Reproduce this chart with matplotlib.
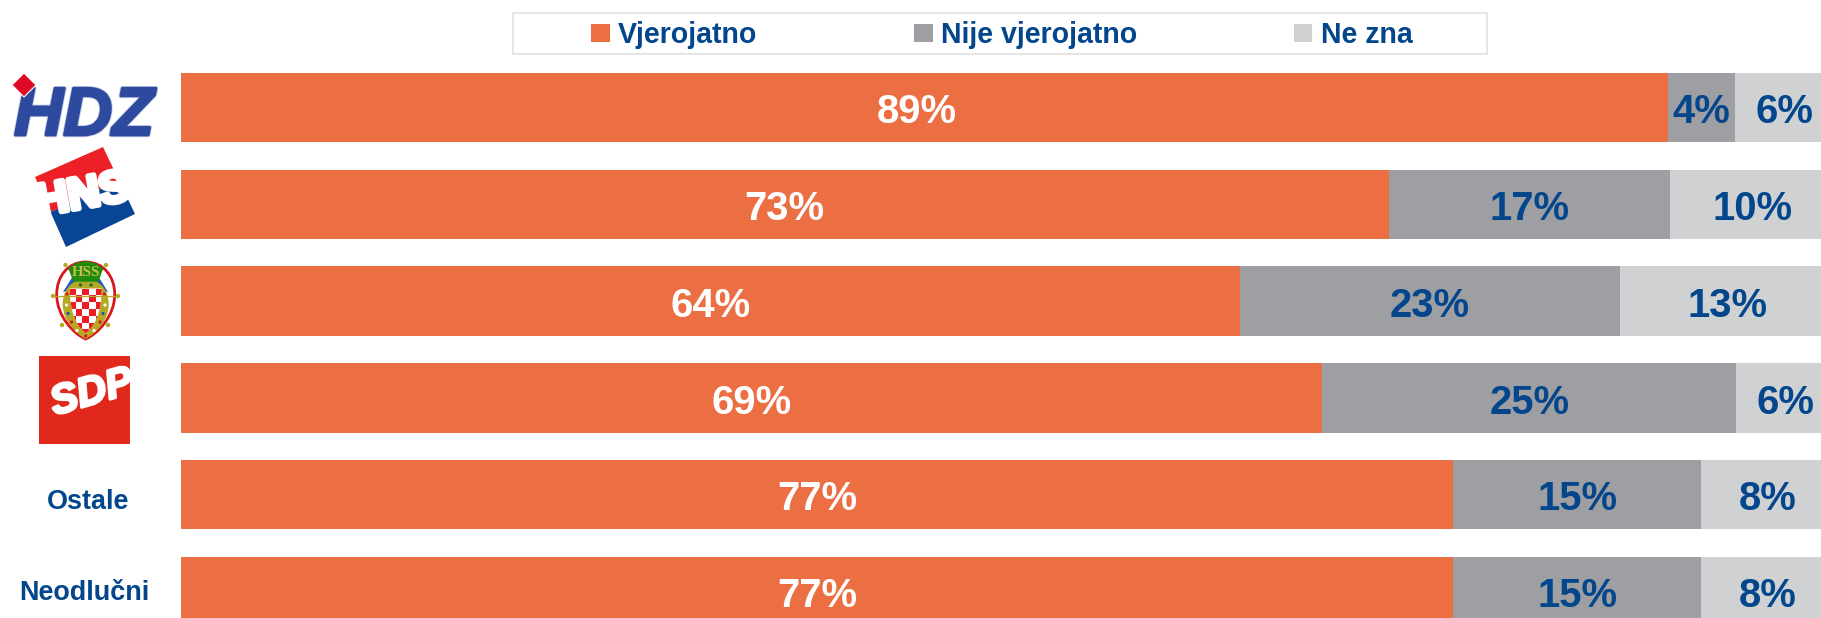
import matplotlib

matplotlib.use("Agg")

import matplotlib.pyplot as plt
import matplotlib.patheffects as pe
from matplotlib.patches import Circle, PathPatch, Polygon, Rectangle
from matplotlib.path import Path

WIDTH = 1821
HEIGHT = 618

plt.rcParams["font.family"] = ["Liberation Sans", "DejaVu Sans"]

ORANGE = "#EC6F43"
GRAY = "#9E9FA2"
LIGHT = "#D0D1D3"
BLUE = "#03468C"

# top to bottom; the first four rows are party logos in the original
categories = ["HDZ", "HNS", "HSS", "SDP", "Ostale", "Neodlučni"]
vjerojatno = [89.9, 73, 64, 69, 76.9, 76.9]
nije_vjerojatno = [4, 17, 23, 25, 15, 15]
ne_zna = [6.1, 10, 13, 6, 8.1, 8.1]
# printed numbers, the first bar is drawn a bit longer than its label says
vjerojatno_labels = [89, 73, 64, 69, 77, 77]
nije_labels = [4, 17, 23, 25, 15, 15]
ne_zna_labels = [6, 10, 13, 6, 8, 8]
legend_labels = ["Vjerojatno", "Nije vjerojatno", "Ne zna"]


def px(size):
    # font size in points for a size in pixels at dpi 100
    return size * 0.72


def shield_path(cx, top, bottom, half):
    mid = top + (bottom - top) * 0.42
    verts = [
        (cx, top),
        (cx + half * 0.62, top), (cx + half, mid - (mid - top) * 0.55), (cx + half, mid),
        (cx + half, mid + (bottom - mid) * 0.5), (cx + half * 0.4, bottom - 5), (cx, bottom),
        (cx - half * 0.4, bottom - 5), (cx - half, mid + (bottom - mid) * 0.5), (cx - half, mid),
        (cx - half, mid - (mid - top) * 0.55), (cx - half * 0.62, top), (cx, top),
    ]
    codes = [Path.MOVETO] + [Path.CURVE4] * 12
    return Path(verts, codes)


def checker_path(cx, top, bottom, half):
    verts = [
        (cx - half, top), (cx + half, top),
        (cx + half, top + (bottom - top) * 0.55), (cx + half * 0.55, bottom - 6), (cx, bottom),
        (cx - half * 0.55, bottom - 6), (cx - half, top + (bottom - top) * 0.55), (cx - half, top),
        (cx - half, top),
    ]
    codes = [Path.MOVETO, Path.LINETO] + [Path.CURVE4] * 6 + [Path.CLOSEPOLY]
    return Path(verts, codes)


def draw_hdz(ax):
    ax.text(84, 110, "HDZ", color="#2E4A9E", fontsize=px(68), fontweight="bold",
            fontstyle="italic", ha="center", va="center_baseline",
            path_effects=[pe.withStroke(linewidth=3.2, foreground="#C4CCE2"),
                          pe.withStroke(linewidth=2, foreground="#2E4A9E")])
    ax.add_patch(Polygon([(24, 73), (36, 85), (24, 97), (12, 85)], closed=True,
                         facecolor="#DE0A26", edgecolor="white", linewidth=0.8, zorder=5))


def draw_hns(ax):
    ax.add_patch(Polygon([(35, 177), (103, 147), (119, 180.5), (50.5, 212)],
                         closed=True, facecolor="#EE2027", edgecolor="none"))
    ax.add_patch(Polygon([(50.5, 212), (119, 180.5), (135, 214), (66, 247)],
                         closed=True, facecolor="#084695", edgecolor="none"))
    ax.text(83, 196, "HNS", color="white", fontsize=px(44), fontweight="bold",
            rotation=10, rotation_mode="anchor", ha="center", va="center",
            path_effects=[pe.withStroke(linewidth=4, foreground="white")])


def draw_hss(ax):
    cx = 85.7
    olive = "#B5A823"
    ax.plot([53, 118], [296, 296], color=olive, linewidth=0.9)
    for x, y in [(65.5, 265), (106, 265), (53, 296), (118, 296), (62, 325), (108, 325)]:
        ax.add_patch(Circle((x, y), 1.5, color=olive))
    ax.add_patch(PathPatch(shield_path(cx, 262, 339, 29), facecolor="white",
                           edgecolor="#D8161C", linewidth=2))
    ax.add_patch(Polygon([(73, 276), (63, 292), (72, 290), (78, 280)], closed=True,
                         facecolor="#1F55C8", edgecolor="none"))
    ax.add_patch(Polygon([(98, 276), (108, 292), (99, 290), (93, 280)], closed=True,
                         facecolor="#1F55C8", edgecolor="none"))
    ax.add_patch(PathPatch(shield_path(cx, 279, 339, 23), facecolor=olive, edgecolor="none"))

    inner = PathPatch(checker_path(cx, 288.5, 333, 16), facecolor="white", edgecolor="none")
    ax.add_patch(inner)
    size = 6.8
    for row in range(7):
        for col in range(5):
            if (row + col) % 2 == 0:
                square = Rectangle((cx - 2.5 * size + col * size, 288.5 + row * size), size, size,
                                   facecolor="#EE1C25", edgecolor="none")
                ax.add_patch(square)
                square.set_clip_path(inner)

    ax.add_patch(Polygon([(68.3, 268.3), (76, 263), (85.7, 261), (95, 263), (103.3, 268.3),
                          (98.3, 281.7), (73.3, 281.7)], closed=True,
                         facecolor="#1E8A0E", edgecolor="none"))
    ax.text(cx, 272.5, "HSS", color="#C9BE45", fontsize=px(15), fontweight="bold",
            family="Liberation Serif", ha="center", va="center")
    for x, y, color in [(67, 294, "#D8161C"), (104.5, 294, "#D8161C"), (80.5, 285, "#1E6A2E"),
                        (91, 285, "#1E6A2E"), (68, 313.5, "#2255A0"), (103, 313.5, "#2255A0"),
                        (66.5, 305, "white"), (105, 305, "white"), (71.5, 322, "#D8161C"),
                        (100, 322, "#D8161C"), (77, 330.5, "white"), (94, 330.5, "white"),
                        (85.7, 336, "#D8161C")]:
        ax.add_patch(Circle((x, y), 0.9, color=color))


def draw_sdp(ax):
    box = Rectangle((39, 356), 90.7, 88, facecolor="#E0281C", edgecolor="none")
    ax.add_patch(box)
    label = ax.text(92, 393, "SDP", color="white", fontsize=px(41), fontweight="bold",
                    fontstyle="italic", rotation=16, rotation_mode="anchor",
                    ha="center", va="center",
                    path_effects=[pe.withStroke(linewidth=2, foreground="white")])
    label.set_clip_path(box)


fig = plt.figure(figsize=(WIDTH / 100, HEIGHT / 100), dpi=100)

# one row is 96.8 px high and 100% is 1655 px wide, so the chart runs past the right
# and bottom edges of the picture like in the reference
pitch = 96.8
chart_left = 180.5
chart_top = 107.5 - pitch / 2
chart_height = pitch * len(categories)
chart = fig.add_axes([chart_left / WIDTH, 1 - (chart_top + chart_height) / HEIGHT,
                      1655 / WIDTH, chart_height / HEIGHT])
chart.set_xlim(0, 100)
chart.set_ylim(len(categories) - 0.5, -0.5)
chart.axis("off")

rows = list(range(len(categories)))
series = [
    (vjerojatno, ORANGE, vjerojatno_labels, "white"),
    (nije_vjerojatno, GRAY, nije_labels, BLUE),
    (ne_zna, LIGHT, ne_zna_labels, BLUE),
]
left = [0.0] * len(categories)
for (values, color, labels, text_color), name in zip(series, legend_labels):
    chart.barh(rows, values, left=left, height=0.715, color=color, label=name)
    for row, start, number in zip(rows, left, labels):
        chart.text(start + number / 2, row + 0.008, f"{number}%", color=text_color,
                   fontsize=px(40), fontweight="bold", ha="center", va="center_baseline")
    left = [start + value for start, value in zip(left, values)]

# everything around the bars is placed in picture pixels
overlay = fig.add_axes([0, 0, 1, 1], facecolor="none")
overlay.set_xlim(0, WIDTH)
overlay.set_ylim(HEIGHT, 0)
overlay.axis("off")

overlay.add_patch(Rectangle((513, 12.5), 974, 41, facecolor="white", edgecolor="#DEDEDE",
                            linewidth=1.1))
handles, names = chart.get_legend_handles_labels()
fig.legend(handles, names, ncol=3, frameon=False, loc="center",
           bbox_to_anchor=(1002 / WIDTH, 1 - 35 / HEIGHT),
           prop={"size": px(28.5), "weight": "bold"}, labelcolor=BLUE,
           handlelength=0.64, handleheight=0.64, handletextpad=0.3, columnspacing=5.5,
           borderpad=0, borderaxespad=0)

draw_hdz(overlay)
draw_hns(overlay)
draw_hss(overlay)
draw_sdp(overlay)

overlay.text(88, 502, categories[4], color=BLUE, fontsize=px(27), fontweight="bold",
             ha="center", va="center")
overlay.text(84, 593, categories[5], color=BLUE, fontsize=px(27), fontweight="bold",
             ha="center", va="center")

fig.savefig("out.png", dpi=100)
plt.close(fig)
